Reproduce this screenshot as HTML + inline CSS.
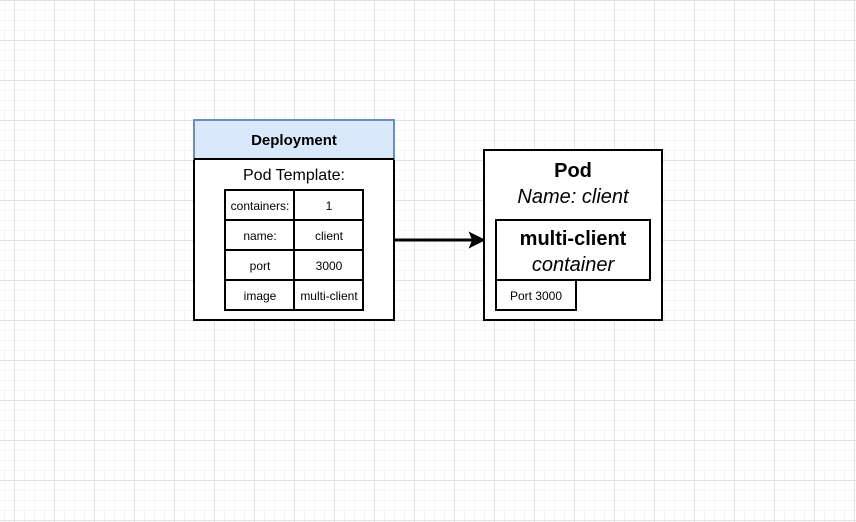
<!DOCTYPE html>
<html><head><style>
html,body{margin:0;padding:0;background:#fff;}
svg{display:block;}
text{font-family:"Liberation Sans",Arial,sans-serif;}
</style></head><body>
<svg width="856" height="522" viewBox="0 0 856 522" xmlns="http://www.w3.org/2000/svg">
<defs>
<pattern id="minor" width="10" height="10" patternUnits="userSpaceOnUse" x="4" y="0">
<path d="M0 0.5H10M0.5 0V10" stroke="#f5f5f5" stroke-width="1" fill="none"/>
</pattern>
<pattern id="major" width="40" height="40" patternUnits="userSpaceOnUse" x="14" y="0">
<path d="M0 0.5H40M0.5 0V40" stroke="#e2e2e2" stroke-width="1" fill="none"/>
</pattern>
</defs>
<rect width="856" height="522" fill="url(#minor)"/>
<rect width="856" height="522" fill="url(#major)"/>

<rect x="194" y="120" width="200" height="200" fill="#fff" stroke="#000" stroke-width="2"/>
<rect x="194" y="120" width="200" height="39" fill="#dae8fc" stroke="#6c8ebf" stroke-width="2"/>
<line x1="194" y1="159" x2="394" y2="159" stroke="#000" stroke-width="2"/>
<text x="294" y="145" font-size="15" font-weight="bold" text-anchor="middle">Deployment</text>
<text x="294" y="180" font-size="16" text-anchor="middle">Pod Template:</text>
<g stroke="#000" stroke-width="2" fill="#fff">
<rect x="225" y="190" width="138" height="120"/>
<line x1="294" y1="190" x2="294" y2="310"/>
<line x1="225" y1="220" x2="363" y2="220"/>
<line x1="225" y1="250" x2="363" y2="250"/>
<line x1="225" y1="280" x2="363" y2="280"/>
</g>
<g font-size="12" text-anchor="middle">
<text x="260" y="210">containers:</text><text x="329" y="210">1</text>
<text x="260" y="240">name:</text><text x="329" y="240">client</text>
<text x="260" y="270">port</text><text x="329" y="270">3000</text>
<text x="260" y="300">image</text><text x="329" y="300">multi-client</text>
</g>

<line x1="394" y1="240" x2="476" y2="240" stroke="#000" stroke-width="3"/>
<path d="M470 233 L484 240 L470 247 L473 240 Z" fill="#000" stroke="#000" stroke-width="1.5"/>

<rect x="484" y="150" width="178" height="170" fill="#fff" stroke="#000" stroke-width="2"/>
<text x="573" y="177" font-size="20" font-weight="bold" text-anchor="middle">Pod</text>
<text x="573" y="203" font-size="20" font-style="italic" text-anchor="middle">Name: client</text>
<rect x="496" y="220" width="154" height="60" fill="#fff" stroke="#000" stroke-width="2"/>
<text x="573" y="245" font-size="20" font-weight="bold" text-anchor="middle">multi-client</text>
<text x="573" y="271" font-size="20" font-style="italic" text-anchor="middle">container</text>
<rect x="496" y="280" width="80" height="30" fill="#fff" stroke="#000" stroke-width="2"/>
<text x="536" y="300" font-size="12" text-anchor="middle">Port 3000</text>
</svg>
</body></html>
